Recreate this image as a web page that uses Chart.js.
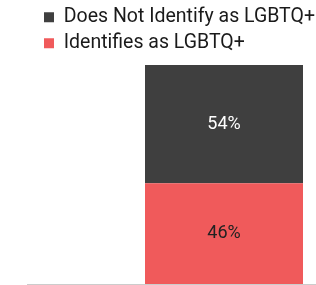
<!DOCTYPE html>
<html lang="en">
<head>
<meta charset="UTF-8">
<title>LGBTQ+ identification</title>
<script src="https://cdn.jsdelivr.net/npm/chart.js"></script>
<style>
  html, body { margin: 0; padding: 0; background: #fff; }
  #wrap { width: 316px; height: 285px; overflow: hidden; }
</style>
</head>
<body>
<div id="wrap"><canvas id="chart" width="421" height="285"></canvas></div>
<script>
const categories = ['All respondents']
const seriesNames = ['Identifies as LGBTQ+', 'Does Not Identify as LGBTQ+']
const identifies = [46]
const doesNotIdentify = [54]

// value labels drawn in the middle of each segment
const barLabels = {
  id: 'barLabels',
  afterDatasetsDraw(chart) {
    const ctx = chart.ctx
    chart.data.datasets.forEach((ds, i) => {
      chart.getDatasetMeta(i).data.forEach((bar, j) => {
        const { x, y } = bar.getCenterPoint()
        ctx.save()
        ctx.fillStyle = ds.labelColor
        ctx.font = '18px Roboto'
        ctx.textAlign = 'center'
        ctx.textBaseline = 'middle'
        ctx.fillText(ds.data[j] + '%', x, y)
        ctx.restore()
      })
    })
  }
}

// legend sits a little further in, and a little higher, than the plot
const legendIndent = {
  id: 'legendIndent',
  afterLayout(chart) {
    const l = chart.legend
    l.left += 10.5
    l.right += 10.5
    l.top -= 2
    l.bottom -= 2
  }
}

new Chart(document.getElementById('chart'), {
  type: 'bar',
  data: {
    labels: categories,
    datasets: [
      { label: seriesNames[0], data: identifies, backgroundColor: '#f05a5b', labelColor: '#222222' },
      { label: seriesNames[1], data: doesNotIdentify, backgroundColor: '#3f3f3f', labelColor: '#ffffff' }
    ]
  },
  options: {
    responsive: false,
    animation: false,
    layout: { padding: { top: 3, bottom: 1, left: 27, right: 0 } },
    datasets: { bar: { categoryPercentage: 1, barPercentage: 0.401 } },
    scales: {
      x: {
        stacked: true,
        ticks: { display: false },
        grid: { display: false, drawTicks: false },
        border: { display: true, color: '#cccccc', width: 1 }
      },
      y: {
        stacked: true,
        display: false,
        min: 0,
        max: 100
      }
    },
    plugins: {
      legend: {
        reverse: true,
        align: 'start',
        labels: {
          boxWidth: 10,
          boxHeight: 10,
          padding: 6.5,
          color: '#1a1a1a',
          font: { family: 'Roboto', size: 19.5 }
        }
      },
      tooltip: { enabled: false }
    }
  },
  plugins: [barLabels, legendIndent]
})
</script>
</body>
</html>
